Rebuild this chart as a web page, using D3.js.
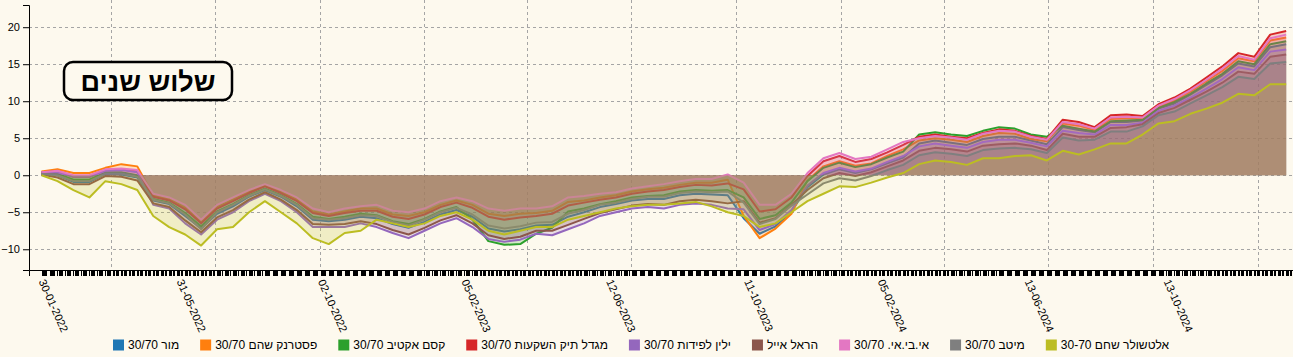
<!DOCTYPE html>
<html><head><meta charset="utf-8">
<script src="https://cdn.jsdelivr.net/npm/d3@7"></script>
<style>
html,body{margin:0;padding:0;background:#fdf9ee;overflow:hidden;}
svg{display:block;font-family:"Liberation Sans",Arial,sans-serif;}
</style></head><body>
<svg id="chart" width="1293" height="357"></svg>
<script>
// ---- data ----
const startDate = "2022-01-30";   // first sample, samples every 14 days
const stepDays = 14;
const seriesNames = ["מור 30/70","פסטרנק שהם 30/70","קסם אקטיב 30/70","מגדל תיק השקעות 30/70","ילין לפידות 30/70","הראל אייל","אי.בי.אי. 30/70","מיטב 30/70","אלטשולר שחם 30-70"];
const seriesColors = ["#1f77b4","#ff7f0e","#2ca02c","#d62728","#9467bd","#8c564b","#e377c2","#7f7f7f","#bcbd22"];
const mor = [0.2,0.0,-0.9,-0.9,0.2,0.1,-0.3,
 -3.4,-3.9,-5.5,-7.2,-5.2,-4.2,-2.9,-2.0,-2.9,-4.2,-6.0,-6.2,-6.0,-5.6,-5.8,-6.6,-7.1,-6.3,-5.3,-4.7,-5.6,-7.2,-7.6,-7.3,-6.8,-6.7,-5.6,-5.0,-4.3,-3.9,-3.4,-3.2,-3.2,-2.7,-2.5,-2.6,-2.7,
 -5.8,-7.9,-6.9,-4.9,
 -1.6,0.1,0.8,0.3,0.8,1.6,2.4,
 4.3,4.7,4.4,4.1,4.9,5.2,5.2,4.7,4.2,
 6.5,6.1,5.8,7.2,7.2,7.4,9.0,9.7,10.9,12.2,13.5,15.1,14.7,17.3,17.7];
const pasternak = [0.5,0.8,0.3,0.3,1.0,1.5,1.2,
 -2.7,-3.2,-4.4,-6.3,-4.3,-3.3,-2.2,-1.4,-2.2,-3.3,-4.9,-5.3,-4.9,-4.5,-4.5,-5.3,-5.5,-5.0,-4.0,-3.4,-4.0,-5.2,-5.5,-5.2,-5.1,-4.8,-3.6,-3.4,-3.0,-2.7,-2.2,-1.9,-1.7,-1.3,-1.0,-1.0,-0.6,
 -5.5,-8.5,-7.2,-5.2,
 -0.7,1.2,1.9,1.3,1.6,2.6,3.5,
 4.7,5.0,4.8,4.5,5.3,5.7,5.6,4.9,4.6,
 7.0,6.7,6.1,7.6,7.7,7.7,9.3,10.1,11.3,12.7,14.1,15.8,15.4,18.2,18.6];
const kesem = [0.3,0.2,-0.6,-0.6,0.4,0.4,0.0,
 -3.2,-3.7,-5.1,-6.9,-4.9,-3.9,-2.7,-1.8,-2.7,-3.9,-5.6,-5.9,-5.6,-5.2,-5.4,-6.2,-6.6,-5.9,-4.9,-4.3,-6.0,-8.9,-9.4,-9.3,-7.9,-7.1,-4.9,-4.5,-3.9,-3.5,-3.0,-2.8,-2.7,-2.2,-2.0,-2.1,-2.0,
 -3.0,-5.9,-5.4,-3.7,
 -0.8,1.0,1.7,1.1,1.5,2.4,3.2,
 5.5,5.8,5.5,5.3,6.0,6.5,6.3,5.5,5.2,
 6.7,6.3,5.9,7.3,7.4,7.5,9.1,9.9,11.0,12.4,13.7,15.4,15.0,17.7,18.1];
const migdal = [0.4,0.5,-0.2,-0.2,0.7,0.8,0.5,
 -2.9,-3.4,-4.6,-6.5,-4.5,-3.5,-2.4,-1.5,-2.4,-3.5,-5.1,-5.5,-5.1,-4.8,-4.8,-5.6,-5.9,-5.3,-4.3,-3.7,-4.4,-5.6,-6.0,-5.7,-5.5,-5.2,-4.1,-3.7,-3.3,-3.0,-2.5,-2.2,-2.0,-1.6,-1.3,-1.4,-1.1,
 -1.9,-4.9,-4.6,-3.0,
 -0.1,1.9,2.6,1.8,2.2,3.1,4.1,
 5.2,5.5,5.2,5.0,5.7,6.2,6.0,5.3,4.9,
 7.5,7.2,6.5,8.1,8.2,8.0,9.6,10.5,11.7,13.2,14.7,16.5,16.0,19.0,19.5];
const yelin = [0.4,0.4,-0.2,-0.2,0.6,0.7,0.4,
 -4.0,-4.5,-6.5,-8.0,-6.0,-5.0,-3.5,-2.5,-3.5,-5.0,-7.0,-7.0,-7.0,-6.5,-7.0,-7.8,-8.5,-7.5,-6.5,-5.8,-7.0,-8.6,-9.0,-8.7,-7.9,-8.1,-7.3,-6.5,-5.5,-5.0,-4.5,-4.3,-4.5,-4.0,-3.8,-4.0,-4.5,
 -4.6,-7.4,-6.6,-4.7,
 -1.4,0.3,1.0,0.5,0.9,1.8,2.6,
 3.9,4.3,4.0,3.7,4.5,4.8,4.8,4.4,3.9,
 6.0,5.7,5.5,6.8,6.8,7.1,8.7,9.4,10.5,11.7,13.0,14.6,14.2,16.7,17.0];
const harel = [0.1,-0.3,-1.2,-1.2,-0.1,-0.2,-0.7,
 -3.8,-4.3,-6.1,-7.7,-5.7,-4.7,-3.3,-2.3,-3.3,-4.7,-6.6,-6.7,-6.6,-6.2,-6.6,-7.4,-8.0,-7.1,-6.1,-5.4,-6.5,-8.1,-8.6,-8.3,-7.5,-7.5,-6.7,-5.9,-5.1,-4.6,-4.1,-3.9,-4.0,-3.5,-3.3,-3.5,-3.8,
 -3.5,-6.4,-5.8,-4.0,
 -2.0,-0.4,0.3,-0.1,0.4,1.2,2.0,
 3.3,3.7,3.5,3.2,4.0,4.2,4.3,4.0,3.4,
 5.6,5.2,5.2,6.4,6.5,6.9,8.4,9.1,10.2,11.3,12.5,14.0,13.7,16.0,16.3];
const ibi = [0.4,0.6,0.0,0.0,0.8,0.9,0.7,
 -2.5,-3.0,-4.0,-6.0,-4.0,-3.0,-2.0,-1.2,-2.0,-3.0,-4.5,-5.0,-4.5,-4.2,-4.0,-4.8,-5.0,-4.5,-3.5,-3.0,-3.5,-4.5,-4.8,-4.5,-4.5,-4.2,-3.0,-2.8,-2.5,-2.3,-1.8,-1.5,-1.2,-0.8,-0.5,-0.5,0.1,
 -1.0,-4.0,-4.0,-2.5,
 0.3,2.3,3.0,2.2,2.5,3.5,4.5,
 5.0,5.3,5.1,4.8,5.6,6.0,5.9,5.2,4.8,
 7.2,6.9,6.3,7.8,7.9,7.8,9.4,10.3,11.5,12.9,14.4,16.1,15.6,18.5,19.0];
const meitav = [0.2,0.0,-0.8,-0.8,0.2,0.2,-0.2,
 -3.3,-3.8,-5.3,-7.3,-5.0,-4.0,-2.8,-1.9,-2.8,-4.0,-5.8,-6.0,-5.8,-5.4,-5.5,-6.3,-6.8,-6.0,-5.0,-4.4,-5.3,-6.8,-7.2,-6.9,-6.4,-6.3,-5.2,-4.7,-4.0,-3.7,-3.2,-2.9,-2.9,-2.4,-2.2,-2.3,-2.2,
 -3.7,-6.6,-5.9,-4.1,
 -2.6,-1.1,-0.4,-0.7,-0.1,0.7,1.4,
 2.7,3.1,2.9,2.6,3.4,3.6,3.7,3.5,3.0,
 5.1,4.7,4.8,5.9,5.9,6.6,8.1,8.6,9.7,10.8,11.9,13.3,13.0,15.1,15.3];
const altshuler = [0.0,-0.8,-2.0,-3.0,-0.8,-1.2,-2.0,
 -5.5,-7.0,-8.0,-9.5,-7.3,-7.0,-5.0,-3.5,-5.0,-6.5,-8.5,-9.3,-7.8,-7.5,-6.0,-6.5,-7.0,-6.5,-5.5,-5.0,-6.0,-7.5,-8.0,-7.5,-7.0,-7.0,-6.0,-5.5,-5.0,-4.5,-4.2,-4.0,-4.0,-3.8,-3.6,-4.2,-5.0,
 -5.5,-7.0,-6.5,-5.0,
 -3.5,-2.5,-1.5,-1.6,-1.0,-0.3,0.3,
 1.5,2.0,1.8,1.4,2.3,2.3,2.6,2.7,2.0,
 3.3,2.8,3.5,4.3,4.3,5.5,7.0,7.3,8.3,9.0,9.8,11.0,10.8,12.3,12.3];
const seriesValues = [mor,pasternak,kesem,migdal,yelin,harel,ibi,meitav,altshuler];
const tickLabels = ["30-01-2022","31-05-2022","02-10-2022","05-02-2023","12-06-2023","11-10-2023","05-02-2024","13-06-2024","13-10-2024"];
const yTicks = [-10,-5,0,5,10,15,20];
const titleText = "שלוש שנים";
const xDomain = ["2022-01-19","2025-02-01"];
const yDomain = [-12.8, 23];
const tradingRange = ["2022-01-30","2025-01-31"];

// ---- chart ----
const W = 1293, H = 357;
const M = {left:29, top:5, bottom:270, right:1293};
const svg = d3.select("#chart");
svg.append("rect").attr("width",W).attr("height",H).attr("fill","#fdf9ee");
const pIso = d3.timeParse("%Y-%m-%d");
const fDmy = d3.timeFormat("%d-%m-%Y");
const x = d3.scaleTime().domain(xDomain.map(pIso)).range([M.left, M.right]);
const y = d3.scaleLinear().domain(yDomain).range([M.bottom, M.top]);
const t0 = pIso(startDate);
const dates = mor.map((_,i)=>d3.timeDay.offset(t0, i*stepDays));

// grid
const grid = svg.append("g").attr("stroke","#a5a5a5").attr("stroke-dasharray","3,3").attr("stroke-width",1);
grid.selectAll("line.h").data(yTicks).join("line").attr("class","h")
  .attr("x1",M.left).attr("x2",W).attr("y1",d=>Math.round(y(d))+0.5).attr("y2",d=>Math.round(y(d))+0.5);
grid.selectAll("line.v").data(x.ticks(d3.timeMonth.every(3))).join("line").attr("class","v")
  .attr("x1",d=>Math.round(x(d))+0.5).attr("x2",d=>Math.round(x(d))+0.5).attr("y1",0).attr("y2",M.bottom);

// series
const area = d3.area().x((d,i)=>x(dates[i])).y0(y(0)).y1(d=>y(d));
const line = d3.line().x((d,i)=>x(dates[i])).y(d=>y(d));
seriesValues.forEach((vals,k)=>{
  const g = svg.append("g");
  g.append("path").attr("d",area(vals)).attr("fill",seriesColors[k]).attr("fill-opacity",0.2).attr("stroke","none");
  g.append("path").attr("d",line(vals)).attr("fill","none").attr("stroke",seriesColors[k]).attr("stroke-width",2).attr("stroke-linejoin","round");
});

// axes
const yAxis = svg.append("g").attr("transform",`translate(${M.left},0)`)
  .call(d3.axisLeft(y).tickValues(yTicks).tickSize(6));
yAxis.selectAll("text").attr("font-size",11).attr("fill","#000").attr("font-family","Liberation Sans, Arial, sans-serif");
const labelSet = new Set(tickLabels);
const tradingDays = d3.timeDay.range(pIso(tradingRange[0]), pIso(tradingRange[1])).filter(d=>d.getDay()<=4);
const xAxis = svg.append("g").attr("transform",`translate(0,${M.bottom})`)
  .call(d3.axisBottom(x).tickValues(tradingDays).tickSize(6).tickFormat(d=>labelSet.has(fDmy(d))?fDmy(d):""));
xAxis.selectAll(".tick line").attr("shape-rendering","crispEdges").attr("stroke","#000");
xAxis.selectAll("text").attr("font-size",11).attr("fill","#000").attr("font-family","Liberation Sans, Arial, sans-serif")
  .attr("x",0).attr("y",0).attr("dy","0.35em").attr("text-anchor","start")
  .attr("transform","translate(0,10) rotate(66)");

// title box
const tb = svg.append("g");
tb.append("rect").attr("x",64).attr("y",62).attr("width",168).attr("height",38).attr("rx",9)
  .attr("fill","#fdf9ee").attr("stroke","#000").attr("stroke-width",2.5);
tb.append("text").attr("x",148).attr("y",82).attr("text-anchor","middle").attr("dominant-baseline","central")
  .attr("font-size",27).attr("font-weight","bold").attr("fill","#000").text(titleText);

// legend
const lg = svg.append("g").attr("transform","translate(0,345)");
let lx = 113;
seriesNames.forEach((name,k)=>{
  lg.append("rect").attr("x",lx).attr("y",-5.5).attr("width",11).attr("height",11).attr("fill",seriesColors[k]);
  const t = lg.append("text").attr("x",lx+15).attr("y",0).attr("dy","0.35em").attr("font-size",12).attr("fill","#000")
    .attr("direction","ltr").text(name);
  lx += 15 + t.node().getComputedTextLength() + 21;
});
</script>
</body></html>
